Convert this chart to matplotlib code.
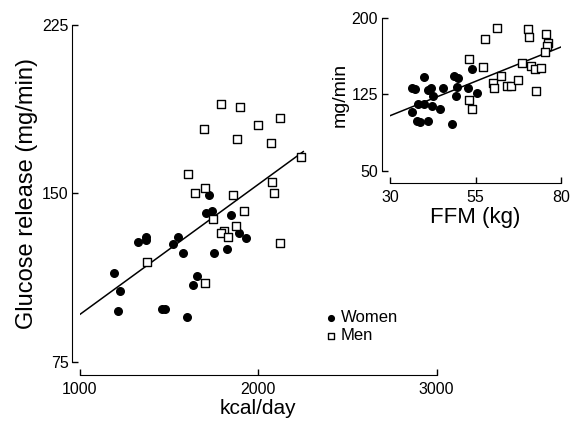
import matplotlib
matplotlib.use("Agg")
import matplotlib.pyplot as plt

plt.rcParams["font.family"] = ["Liberation Sans", "DejaVu Sans"]

# main panel: glucose release vs energy intake
women_kcal = [1725, 1738, 1706, 1848, 1890, 1929, 1368, 1325, 1372, 1551, 1523,
              1823, 1576, 1753, 1192, 1658, 1632, 1226, 1215, 1458, 1478, 1602]
women_gluc = [149.3, 142.3, 141.4, 140.4, 132.2, 130.3, 130.7, 128.5, 129.2, 130.6, 127.4,
              125.4, 123.4, 123.3, 114.7, 113.2, 109.3, 106.5, 97.5, 98.3, 98.3, 95.1]
men_kcal = [1791, 1899, 2121, 1998, 1697, 1882, 2071, 2239, 1606, 2078, 1701, 1643,
            2088, 1860, 1920, 1747, 1875, 1807, 1791, 1832, 2121, 1374, 1699]
men_gluc = [189.7, 188.6, 183.4, 180.5, 178.5, 174.3, 172.3, 166.2, 158.5, 155.2, 152.4, 150.3,
            150.2, 149.3, 142.3, 138.4, 135.5, 133.4, 132.3, 130.4, 128.1, 119.6, 110.2]
fit_kcal = [1000, 2252]
fit_gluc = [96.1, 168.6]

# inset: glucose release vs fat free mass
women_ffm = [39.9, 36.3, 37.3, 41.2, 42.0, 45.6, 48.6, 49.8, 49.6, 54.1, 52.9, 55.4,
             42.6, 49.2, 38.3, 40.0, 42.2, 44.5, 36.3, 37.8, 38.8, 41.2, 48.0]
women_mg = [142.2, 131.7, 130.4, 129.7, 131.1, 131.1, 143.5, 140.9, 132.7, 150.1, 131.1, 126.2,
            123.8, 123.8, 115.3, 115.3, 114.0, 110.7, 107.5, 98.9, 98.2, 98.9, 95.7]
men_ffm = [61.4, 57.8, 70.4, 70.6, 75.6, 76.3, 76.0, 75.3, 53.1, 57.3, 68.7, 71.2,
           72.4, 74.1, 62.5, 60.2, 60.5, 64.1, 65.3, 67.5, 72.7, 53.2, 54.1]
men_mg = [190.2, 179.6, 189.5, 181.3, 184.3, 175.4, 173.0, 167.1, 159.6, 151.8, 156.3, 153.3,
          149.8, 151.4, 143.2, 136.0, 131.1, 133.4, 133.7, 139.3, 128.4, 119.6, 110.7]
fit_ffm = [30, 80.2]
fit_mg = [104.1, 172.0]


def style_axes(ax, xlim, ylim, xticks, yticks, xoff, yoff):
    ax.set_xlim(xlim)
    ax.set_ylim(ylim)
    ax.set_xticks(xticks)
    ax.set_yticks(yticks)
    ax.spines["top"].set_visible(False)
    ax.spines["right"].set_visible(False)
    ax.spines["left"].set_position(("outward", yoff))
    ax.spines["bottom"].set_position(("outward", xoff))
    ax.spines["left"].set_bounds(ylim)
    ax.spines["bottom"].set_bounds(xlim)
    ax.tick_params(direction="in", length=4, width=1, labelsize=11.5)
    ax.tick_params(axis="x", pad=5)
    ax.tick_params(axis="y", pad=2.5)


fig = plt.figure(figsize=(5.71, 4.25), dpi=100)

ax = fig.add_axes([0.1401, 0.1489, 0.6247, 0.7924])
ax.patch.set_visible(False)
ax.plot(fit_kcal, fit_gluc, color="black", lw=1.1)
w = ax.scatter(women_kcal, women_gluc, s=30, marker="o", color="black", zorder=3)
m = ax.scatter(men_kcal, men_gluc, s=26, marker="s", facecolor="white",
               edgecolor="black", linewidth=1.0, zorder=3)
style_axes(ax, (1000, 3000), (75, 225), [1000, 2000, 3000], [75, 150, 225], 9.4, 5.8)
ax.set_xlabel("kcal/day", fontsize=15, labelpad=2)
ax.set_ylabel("Glucose release (mg/min)", fontsize=17, labelpad=3)

ax.legend([w, m], ["Women", "Men"], loc="lower left", bbox_to_anchor=(0.665, 0.03),
          frameon=False, fontsize=12, handlelength=0.6, handletextpad=0.3,
          labelspacing=0.2, markerscale=0.75, borderpad=0)

ins = fig.add_axes([0.683, 0.5984, 0.2995, 0.3586])
ins.patch.set_visible(False)
ins.plot(fit_ffm, fit_mg, color="black", lw=1.1)
ins.scatter(women_ffm, women_mg, s=30, marker="o", color="black", zorder=3)
ins.scatter(men_ffm, men_mg, s=26, marker="s", facecolor="white",
            edgecolor="black", linewidth=1.0, zorder=3)
style_axes(ins, (30, 80), (50, 200), [30, 55, 80], [50, 125, 200], 8.6, 6.0)
ins.set_xlabel("FFM (kg)", fontsize=16, labelpad=2)
ins.set_ylabel("mg/min", fontsize=14, labelpad=2)

plt.savefig("out.png", dpi=100)
